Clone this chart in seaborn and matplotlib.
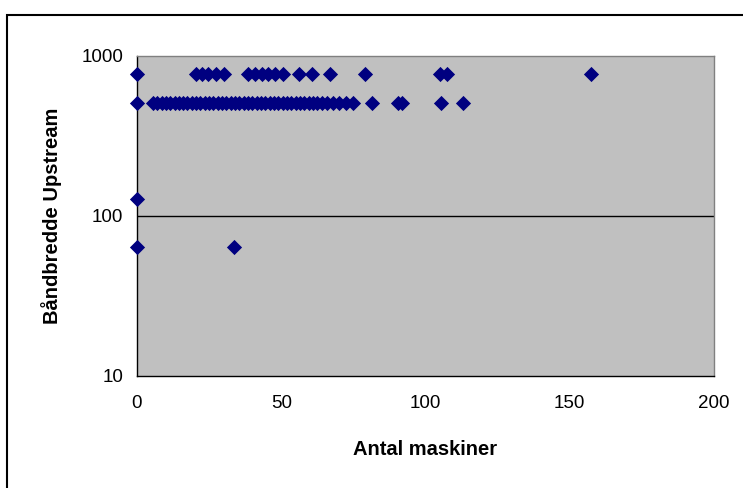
import numpy as np
import pandas as pd
import seaborn as sns
import matplotlib.pyplot as plt
from matplotlib.patches import Rectangle

# bandwidth 768
x_768 = [0, 20.5, 22.5, 24.5, 27.5, 30, 38.5, 41, 43.5, 45.5, 48, 50.5, 56, 60.5, 67,
         79, 105, 107.5, 157.5]
# bandwidth 512
x_512 = [0, 5.5, 7, 8.5, 10, 11.5, 13, 14.5, 16, 17.5, 19, 20.5, 22, 23.5, 25, 26.5,
         28, 29.5, 31, 32.5, 34, 35.5, 37, 38.5, 40, 41.5, 43, 44.5, 46, 47.5, 49,
         50.5, 52, 53.5, 55, 56.5, 58, 59.5, 61, 62.5, 64, 66, 68, 70, 72.5, 75,
         81.5, 90.5, 92, 105.5, 113]
# lower bandwidths
x_128 = [0]
x_64 = [0, 33.5]

df = pd.DataFrame({
    "Antal maskiner": x_768 + x_512 + x_128 + x_64,
    "Båndbredde Upstream": [768] * len(x_768) + [512] * len(x_512)
                           + [128] * len(x_128) + [64] * len(x_64),
})

sns.set_style("white", {"text.color": "black", "axes.labelcolor": "black",
                        "xtick.color": "black", "ytick.color": "black"})
plt.rcParams['font.family'] = ['Liberation Sans', 'DejaVu Sans']

fig = plt.figure(figsize=(7.43, 4.88), dpi=100)
ax = fig.add_axes([137 / 743, 112 / 488, 577 / 743, 320 / 488])

ax.set_facecolor("#C0C0C0")
sns.scatterplot(data=df, x="Antal maskiner", y="Båndbredde Upstream", ax=ax,
                marker="D", s=60, color="#000080", edgecolor="#000080",
                linewidth=0, zorder=3, clip_on=False)

ax.set_yscale("log")
ax.set_ylim(10, 1000)
ax.set_xlim(0, 200)
ax.set_yticks([10, 100, 1000])
ax.set_yticklabels(["10", "100", "1000"])
ax.set_xticks([0, 50, 100, 150, 200])
ax.minorticks_off()
ax.axhline(100, color="black", linewidth=1, zorder=1)

for side in ["top", "right"]:
    ax.spines[side].set_color("#808080")
    ax.spines[side].set_linewidth(1)
for side in ["left", "bottom"]:
    ax.spines[side].set_color("black")
    ax.spines[side].set_linewidth(1)
    ax.spines[side].set_visible(True)

ax.tick_params(axis="both", which="major", direction="out", length=5, width=1,
               color="black", labelcolor="black", labelsize=13.5, pad=5)
ax.tick_params(axis="x", pad=9)

ax.set_xlabel("Antal maskiner", fontsize=14.5, fontweight="bold", labelpad=20,
              color="black")
ax.set_ylabel("Båndbredde Upstream", fontsize=14.5, fontweight="bold", labelpad=14,
              color="black")

fig.patches.append(Rectangle((7 / 743, -0.1), 1.1, 1 - 15 / 488 + 0.1,
                             transform=fig.transFigure, fill=False,
                             edgecolor="black", linewidth=1.5))

plt.savefig("out.png", dpi=100)
